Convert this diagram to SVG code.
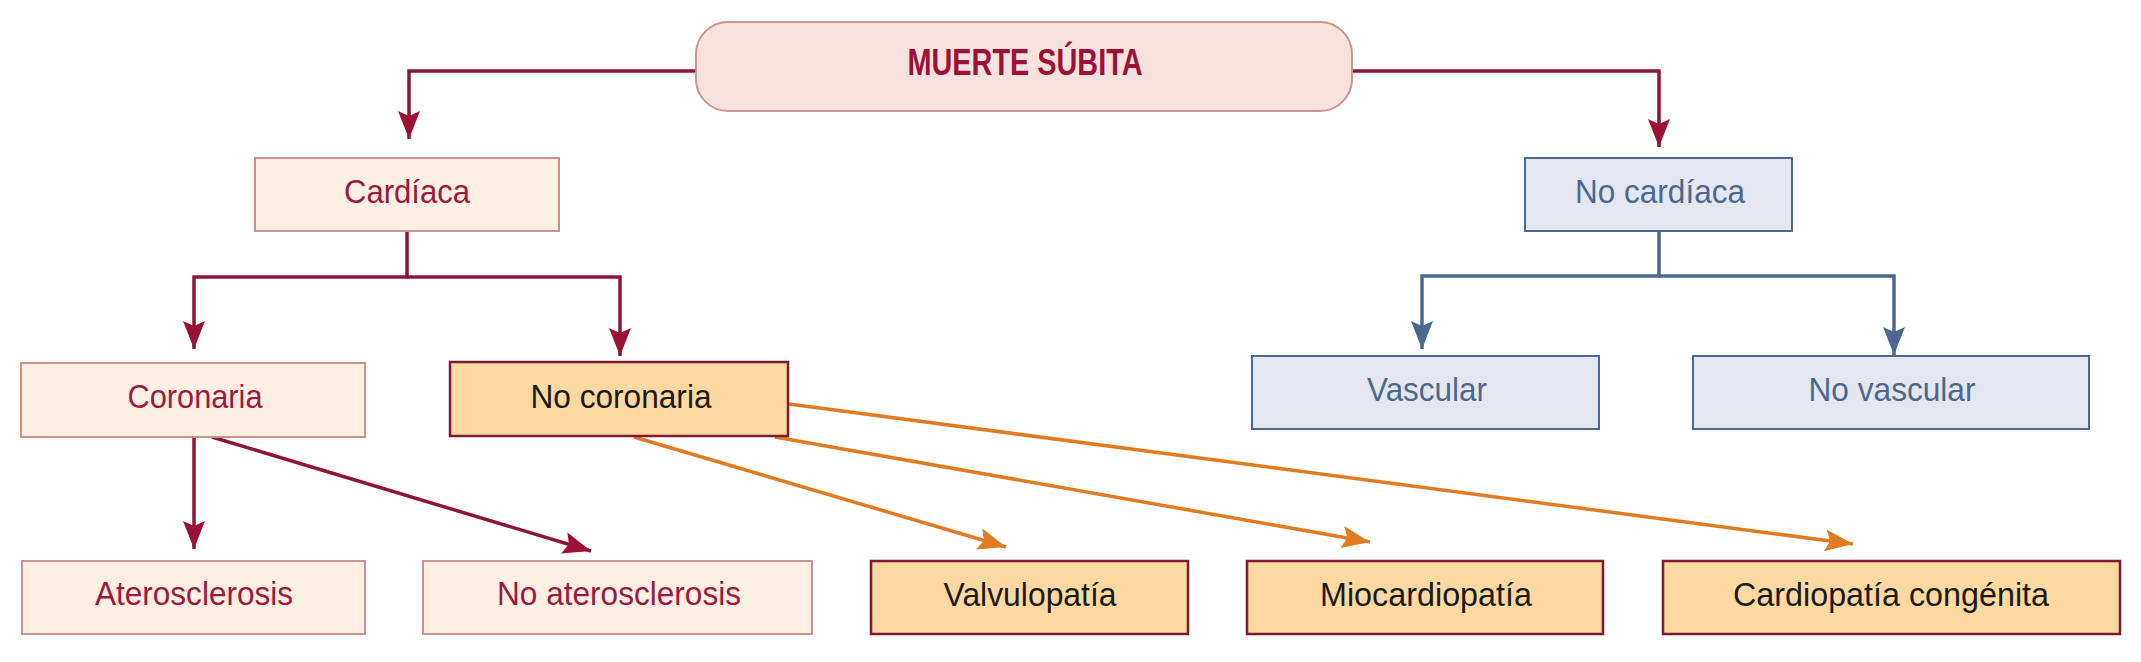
<svg xmlns="http://www.w3.org/2000/svg" width="2141" height="662" viewBox="0 0 2141 662">
<style>
text{font-family:"Liberation Sans",Arial,sans-serif;font-size:34px;text-anchor:middle}
.top rect{fill:#f7e1df;stroke:#c9958f;stroke-width:2}
.top text{font-weight:bold;font-size:37px;fill:#9b1236}
.pk rect{fill:#fdefe2;stroke:#c9928a;stroke-width:2}
.pk text{fill:#9b1a3d}
.or rect{fill:#fdd9a1;stroke:#7d1a31;stroke-width:2.5}
.or text{fill:#1c1a18}
.bl rect{fill:#e4e7f0;stroke:#4d6791;stroke-width:2}
.bl text{fill:#4d6791}
.cr{fill:none;stroke:#8c1538;stroke-width:3.5}
.og{fill:none;stroke:#e07b22;stroke-width:3.5}
.bu{fill:none;stroke:#4d6791;stroke-width:3.5}
</style>
<defs>
<marker id="aCr" viewBox="0 -12 29 24" refX="28" refY="0" markerWidth="29" markerHeight="24" markerUnits="userSpaceOnUse" orient="auto"><path d="M28,0 L0,-11 L5,0 L0,11 Z" fill="#9b1236"/></marker>
<marker id="aOg" viewBox="0 -12 29 24" refX="28" refY="0" markerWidth="29" markerHeight="24" markerUnits="userSpaceOnUse" orient="auto"><path d="M28,0 L0,-11 L5,0 L0,11 Z" fill="#e07b22"/></marker>
<marker id="aBu" viewBox="0 -12 29 24" refX="28" refY="0" markerWidth="29" markerHeight="24" markerUnits="userSpaceOnUse" orient="auto"><path d="M28,0 L0,-11 L5,0 L0,11 Z" fill="#4d6791"/></marker>
</defs>
<g id="connectors">
<path class="cr" d="M696,71 H409 V139" marker-end="url(#aCr)"/>
<path class="cr" d="M1352,71 H1659 V147" marker-end="url(#aCr)"/>
<path class="cr" d="M407,231 V277 H194 V349" marker-end="url(#aCr)"/>
<path class="cr" d="M407,277 H620 V356" marker-end="url(#aCr)"/>
<path class="bu" d="M1659,231 V276 H1422 V349" marker-end="url(#aBu)"/>
<path class="bu" d="M1659,276 H1894 V355" marker-end="url(#aBu)"/>
<path class="cr" d="M194,437 V549" marker-end="url(#aCr)"/>
<path class="cr" d="M212,437 L591,551" marker-end="url(#aCr)"/>
<path class="og" d="M634,437 L1006,547" marker-end="url(#aOg)"/>
<path class="og" d="M775,437 L1370,542" marker-end="url(#aOg)"/>
<path class="og" d="M789,404 L1853,544" marker-end="url(#aOg)"/>
</g>
<g id="muerte" class="top"><rect x="696" y="22" width="656" height="89" rx="32"/><text x="1025" y="75" textLength="235" lengthAdjust="spacingAndGlyphs">MUERTE SÚBITA</text></g>
<g id="cardiaca" class="pk"><rect x="255" y="158" width="304" height="73"/><text x="407" y="203" textLength="126" lengthAdjust="spacingAndGlyphs">Cardíaca</text></g>
<g id="nocardiaca" class="bl"><rect x="1525" y="158" width="267" height="73"/><text x="1660" y="203" textLength="170" lengthAdjust="spacingAndGlyphs">No cardíaca</text></g>
<g id="coronaria" class="pk"><rect x="21" y="363" width="344" height="74"/><text x="195" y="408" textLength="135" lengthAdjust="spacingAndGlyphs">Coronaria</text></g>
<g id="nocoronaria" class="or"><rect x="450" y="362" width="338" height="74"/><text x="621" y="408" textLength="181" lengthAdjust="spacingAndGlyphs">No coronaria</text></g>
<g id="vascular" class="bl"><rect x="1252" y="356" width="347" height="73"/><text x="1427" y="401" textLength="120" lengthAdjust="spacingAndGlyphs">Vascular</text></g>
<g id="novascular" class="bl"><rect x="1693" y="356" width="396" height="73"/><text x="1892" y="401" textLength="167" lengthAdjust="spacingAndGlyphs">No vascular</text></g>
<g id="aterosclerosis" class="pk"><rect x="22" y="561" width="343" height="73"/><text x="194" y="605" textLength="198" lengthAdjust="spacingAndGlyphs">Aterosclerosis</text></g>
<g id="noaterosclerosis" class="pk"><rect x="423" y="561" width="389" height="73"/><text x="619" y="605" textLength="244" lengthAdjust="spacingAndGlyphs">No aterosclerosis</text></g>
<g id="valvulopatia" class="or"><rect x="871" y="561" width="317" height="73"/><text x="1030" y="606" textLength="173" lengthAdjust="spacingAndGlyphs">Valvulopatía</text></g>
<g id="miocardiopatia" class="or"><rect x="1247" y="561" width="356" height="73"/><text x="1426" y="606" textLength="212" lengthAdjust="spacingAndGlyphs">Miocardiopatía</text></g>
<g id="cardiopatia" class="or"><rect x="1663" y="561" width="457" height="73"/><text x="1891" y="606" textLength="316" lengthAdjust="spacingAndGlyphs">Cardiopatía congénita</text></g>
</svg>
